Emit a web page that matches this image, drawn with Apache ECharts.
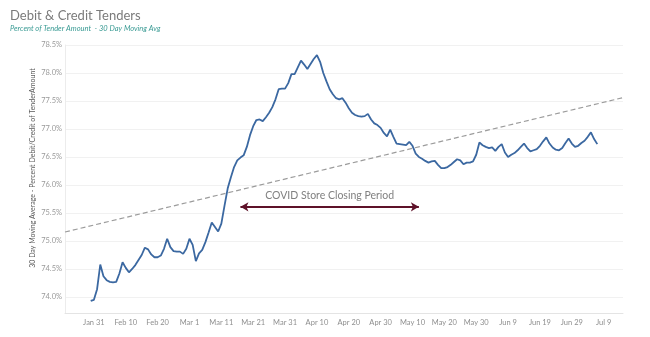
<!DOCTYPE html>
<html>
<head>
<meta charset="utf-8">
<title>Debit & Credit Tenders</title>
<script src="https://cdn.jsdelivr.net/npm/echarts@6/dist/echarts.min.js"></script>
<style>
  html, body { margin: 0; padding: 0; background: #fff; }
  #chart { width: 650px; height: 337px; }
</style>
</head>
<body>
<div id="chart"></div>
<script>
// x values are days counted from Jan 31, 2020
const tickLabels = ['Jan 31', 'Feb 10', 'Feb 20', 'Mar 1', 'Mar 11', 'Mar 21', 'Mar 31', 'Apr 10',
  'Apr 20', 'Apr 30', 'May 10', 'May 20', 'May 30', 'Jun 9', 'Jun 19', 'Jun 29', 'Jul 9'];
const tickDays = [0, 10, 20, 30, 40, 50, 60, 70, 80, 90, 100, 110, 120, 130, 140, 150, 160];
const yTicks = [74.0, 74.5, 75.0, 75.5, 76.0, 76.5, 77.0, 77.5, 78.0, 78.5];

// first value is Jan 30; one value per day after that
const firstDay = -1;
const tenderPct = [
  73.93, 73.95, 74.14, 74.58, 74.37, 74.30, 74.27, 74.26, 74.27, 74.42,
  74.62, 74.52, 74.44, 74.50, 74.57, 74.66, 74.75, 74.88, 74.85, 74.76,
  74.71, 74.71, 74.74, 74.86, 75.04, 74.89, 74.82, 74.81, 74.81, 74.77,
  74.86, 75.04, 74.93, 74.64, 74.78, 74.84, 74.98, 75.15, 75.33, 75.25,
  75.17, 75.31, 75.63, 75.94, 76.14, 76.32, 76.44, 76.49, 76.53, 76.68,
  76.89, 77.05, 77.16, 77.17, 77.14, 77.21, 77.29, 77.39, 77.53, 77.71,
  77.72, 77.72, 77.82, 77.98, 77.98, 78.10, 78.22, 78.15, 78.07, 78.16,
  78.25, 78.32, 78.20, 78.00, 77.85, 77.71, 77.62, 77.55, 77.53, 77.55,
  77.47, 77.37, 77.29, 77.25, 77.23, 77.22, 77.23, 77.27, 77.17, 77.10,
  77.07, 77.02, 76.93, 76.87, 76.99, 76.86, 76.74, 76.73, 76.72, 76.71,
  76.77, 76.70, 76.56, 76.50, 76.47, 76.43, 76.40, 76.42, 76.43, 76.36,
  76.30, 76.30, 76.32, 76.36, 76.41, 76.46, 76.44, 76.37, 76.40, 76.40,
  76.42, 76.54, 76.76, 76.71, 76.68, 76.66, 76.67, 76.61, 76.68, 76.73,
  76.58, 76.50, 76.54, 76.57, 76.62, 76.68, 76.74, 76.66, 76.60, 76.62,
  76.64, 76.70, 76.78, 76.85, 76.74, 76.67, 76.63, 76.62, 76.66, 76.75,
  76.83, 76.74, 76.68, 76.70, 76.75, 76.79, 76.86, 76.94, 76.82, 76.73
];

// linear trend across the full date range
const xRange = [-9.07, 166.07];
const trendValues = [75.16, 77.56];

// store closing period (Mar 17 - May 12)
const closureDays = [46, 102];
const closureLevel = 75.61;
const closureText = 'COVID Store Closing Period';

const chart = echarts.init(document.getElementById('chart'), null, { renderer: 'canvas' });
const baseFont = 'Lato, "Open Sans", sans-serif';

chart.setOption({
  animation: false,
  backgroundColor: '#ffffff',
  title: {
    text: 'Debit & Credit Tenders',
    subtext: 'Percent of Tender Amount  - 30 Day Moving Avg',
    left: 5,
    top: 4,
    itemGap: 3,
    textStyle: { fontFamily: baseFont, fontSize: 13, fontWeight: 'normal', color: '#7a7a7a' },
    subtextStyle: { fontFamily: baseFont, fontSize: 7.5, fontStyle: 'italic', color: '#3a9b94' }
  },
  graphic: [{
    type: 'text',
    x: 33,
    y: 168,
    rotation: Math.PI / 2,
    style: {
      text: '30 Day Moving Average - Percent Debit/Credit of TenderAmount',
      fontFamily: baseFont,
      fontSize: 7,
      fill: '#5a5a5a',
      align: 'center',
      verticalAlign: 'middle'
    }
  }],
  grid: { left: 65, right: 27, top: 45, bottom: 24, containLabel: false },
  xAxis: {
    type: 'value',
    min: xRange[0],
    max: xRange[1],
    axisLine: { show: true, onZero: false, lineStyle: { color: '#e4e4e4', width: 1 } },
    axisTick: { show: false, customValues: tickDays },
    splitLine: { show: false },
    axisLabel: {
      customValues: tickDays,
      margin: 6,
      fontFamily: baseFont,
      fontSize: 7.5,
      color: '#8f8f8f',
      formatter: v => tickLabels[Math.round(v / 10)] || ''
    }
  },
  yAxis: {
    type: 'value',
    min: 73.714,
    max: 78.5,
    axisLine: { show: true, onZero: false, lineStyle: { color: '#ececec', width: 1 } },
    axisTick: { show: false, customValues: yTicks },
    splitLine: { show: true, lineStyle: { color: '#f1f1f1', width: 1 } },
    axisLabel: {
      customValues: yTicks,
      margin: 3,
      fontFamily: baseFont,
      fontSize: 7.5,
      color: '#9a9a9a',
      formatter: v => v.toFixed(1) + '%'
    }
  },
  series: [
    {
      name: 'Trend',
      type: 'line',
      data: [[xRange[0], trendValues[0]], [xRange[1], trendValues[1]]],
      showSymbol: false,
      silent: true,
      lineStyle: { color: '#9c9c9c', width: 1.2, type: [5, 3] },
      z: 1
    },
    {
      name: 'Debit & Credit',
      type: 'line',
      data: tenderPct.map((v, i) => [firstDay + i, v]),
      showSymbol: false,
      smooth: false,
      lineStyle: { color: '#3b68a1', width: 1.8 },
      z: 3,
      markLine: {
        silent: true,
        symbol: ['arrow', 'arrow'],
        symbolSize: [7, 8],
        lineStyle: { color: '#5e1229', width: 2, type: 'solid' },
        label: {
          show: true,
          position: 'middle',
          distance: 6,
          formatter: closureText,
          fontFamily: baseFont,
          fontSize: 10.5,
          color: '#808080'
        },
        data: [[
          { coord: [closureDays[0], closureLevel] },
          { coord: [closureDays[1], closureLevel] }
        ]]
      }
    }
  ]
});
</script>
</body>
</html>
